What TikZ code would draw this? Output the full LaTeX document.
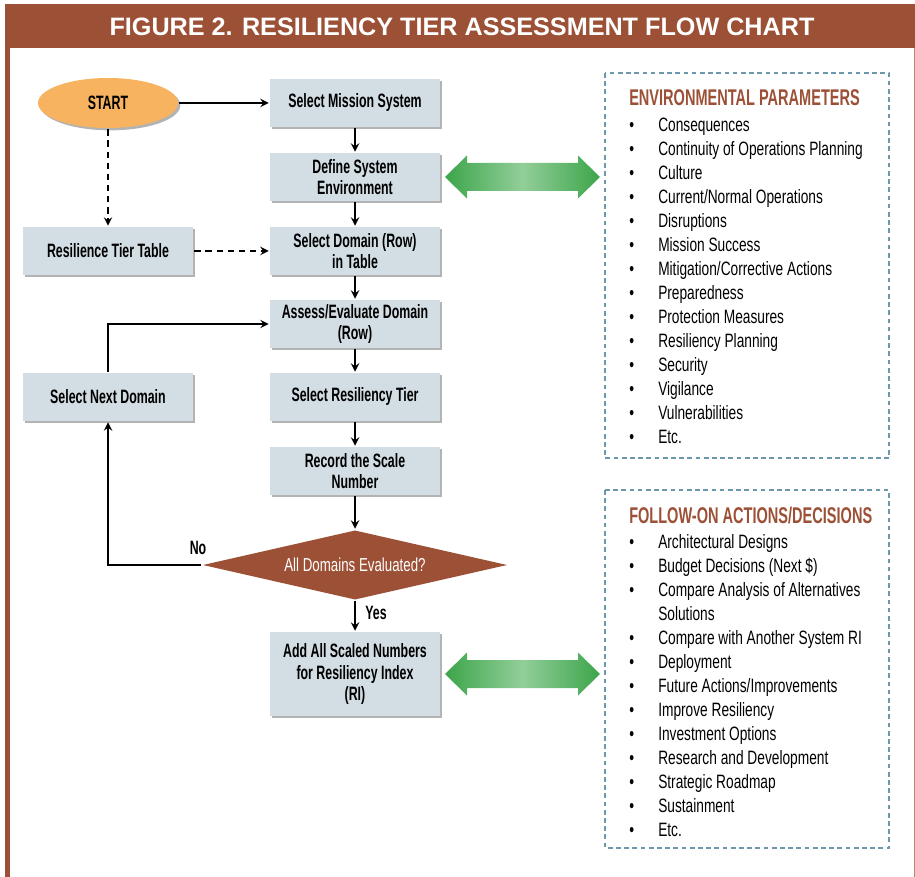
\documentclass[tikz,border=0pt]{standalone}
\usepackage{fontspec}
\setmainfont[FakeStretch=0.71, BoldFeatures={FakeStretch=0.64}]{Liberation Sans}
\newfontfamily\titlefont{Liberation Sans}
\usetikzlibrary{shapes.geometric,shadows}

\definecolor{rustbrown}{HTML}{9C5036}
\definecolor{boxblue}{HTML}{D3DEE4}
\definecolor{startorange}{HTML}{F7B35F}
\definecolor{frameblue}{HTML}{6C97AC}
\definecolor{darkgreen}{HTML}{3CA54A}
\definecolor{lightgreen}{HTML}{92CE99}

\tikzset{
    proc/.style = {fill = boxblue, minimum width = 5.1cm, minimum height = 1.44cm,
        align = center, inner sep = 2pt, font = \bfseries\fontsize{16.5}{18}\selectfont,
        drop shadow = {shadow xshift = 0.07cm, shadow yshift = -0.07cm, opacity = 0.6}},
    startnode/.style = {ellipse, fill = startorange, minimum width = 4.2cm, minimum height = 1.5cm,
        font = \bfseries\fontsize{16.5}{18}\selectfont,
        drop shadow = {shadow xshift = 0.07cm, shadow yshift = -0.07cm, opacity = 0.6}},
    decision/.style = {diamond, aspect = 4.35, fill = rustbrown, minimum width = 9.15cm,
        minimum height = 2.1cm, inner sep = 0pt, text = white, font = \fontsize{16}{18}\selectfont},
    flowlabel/.style = {font = \bfseries\fontsize{16.5}{18}\selectfont},
    frame/.style = {draw = frameblue, line width = 0.6mm, dash pattern = on 4pt off 3pt},
    heading/.style = {anchor = west, inner sep = 0pt, text = rustbrown,
        font = \bfseries\fontsize{19.4}{21}\selectfont},
    item/.style = {anchor = west, inner sep = 0pt, text height = 11pt, text depth = 3pt,
        font = \fontsize{16.5}{18}\selectfont},
    dotted link/.style = {dash pattern = on 5.5pt off 4pt}
}

\begin{document}
\begin{tikzpicture}[
        > = stealth,
        line width = 0.75mm,
        x = 0.03cm, y = -0.03cm
    ]
        \useasboundingbox (0,0) rectangle (915,877);
        % title bar and border
        \fill[rustbrown] (5,4) rectangle (915,48);
        \fill[rustbrown] (5,48) rectangle (10,877);
        \draw[rustbrown!70, line width = 0.3mm] (914,48) -- (914,877);
        \node[text = white, font = \titlefont\bfseries\fontsize{21.5}{24}\selectfont] (title) at (462,27)
            {FIGURE 2. RESILIENCY TIER ASSESSMENT FLOW CHART};

        % flow chart
        \node[startnode] (start) at (108,103) {START};
        \node[proc] (mission) at (355,103) {Select Mission System};
        \node[proc] (define) at (355,177) {Define System\\Environment};
        \node[proc] (domain) at (355,251) {Select Domain (Row)\\in Table};
        \node[proc] (assess) at (355,324) {Assess/Evaluate Domain\\(Row)};
        \node[proc] (tier) at (355,397) {Select Resiliency Tier};
        \node[proc] (record) at (355,471) {Record the Scale\\Number};
        \node[decision] (alldone) at (355,565) {All Domains Evaluated?};
        \node[proc, minimum height = 2.52cm] (sum) at (355,674) {Add All Scaled Numbers\\for Resiliency Index\\(RI)};
        \node[proc] (table) at (108,251) {Resilience Tier Table};
        \node[proc] (next) at (108,397) {Select Next Domain};
        \node[flowlabel] (no) at (198,548) {No};
        \node[flowlabel] (yes) at (376,613) {Yes};

        \draw[->] (start) -- (mission);
        \draw[->, dotted link] (start) -- (table);
        \draw[->, dotted link] (table) -- (domain);
        \draw[->] (mission) -- (define);
        \draw[->] (define) -- (domain);
        \draw[->] (domain) -- (assess);
        \draw[->] (assess) -- (tier);
        \draw[->] (tier) -- (record);
        \draw[->] (record) -- (alldone);
        \draw[->] (alldone) -- (sum);
        \draw[->] (alldone.west) -| (next.south);
        \draw[->] (next.north) |- (assess.west);

        % green double arrows
        \foreach \yc in {177,674}
            \shade[left color = darkgreen, right color = darkgreen, middle color = lightgreen]
                (445,\yc) -- (467,\yc-21.5) -- (467,\yc-14) -- (578,\yc-14) -- (578,\yc-21.5)
                -- (600,\yc) -- (578,\yc+21.5) -- (578,\yc+14) -- (467,\yc+14) -- (467,\yc+21.5) -- cycle;

        % environmental parameters
        \draw[frame] (605,73) rectangle (889,458);
        \node[heading] (envhead) at (628,98) {ENVIRONMENTAL PARAMETERS};
        \foreach \txt [count = \i] in {Consequences, Continuity of Operations Planning, Culture,
            Current/Normal Operations, Disruptions, Mission Success, Mitigation/Corrective Actions,
            Preparedness, Protection Measures, Resiliency Planning, Security, Vigilance,
            Vulnerabilities, Etc.} {
            \node[item] (envdot\i) at (628,103+24*\i) {•};
            \node[item] (env\i) at (657,103+24*\i) {\txt};
        }

        % follow-on actions
        \draw[frame] (605,490) rectangle (889,848);
        \node[heading] (nexthead) at (628,515) {FOLLOW-ON ACTIONS/DECISIONS};
        \foreach \y/\txt in {544/Architectural Designs, 568/Budget Decisions (Next \$),
            592/Compare Analysis of Alternatives, 640/Compare with Another System RI,
            664/Deployment, 688/{Future Actions/Improvements}, 712/Improve Resiliency,
            736/Investment Options, 760/Research and Development, 784/Strategic Roadmap,
            808/Sustainment, 832/Etc.} {
            \node[item] (actdot\y) at (628,\y) {•};
            \node[item] (act\y) at (657,\y) {\txt};
        }
        \node[item] (act616) at (657,616) {Solutions};
    \end{tikzpicture}
\end{document}
